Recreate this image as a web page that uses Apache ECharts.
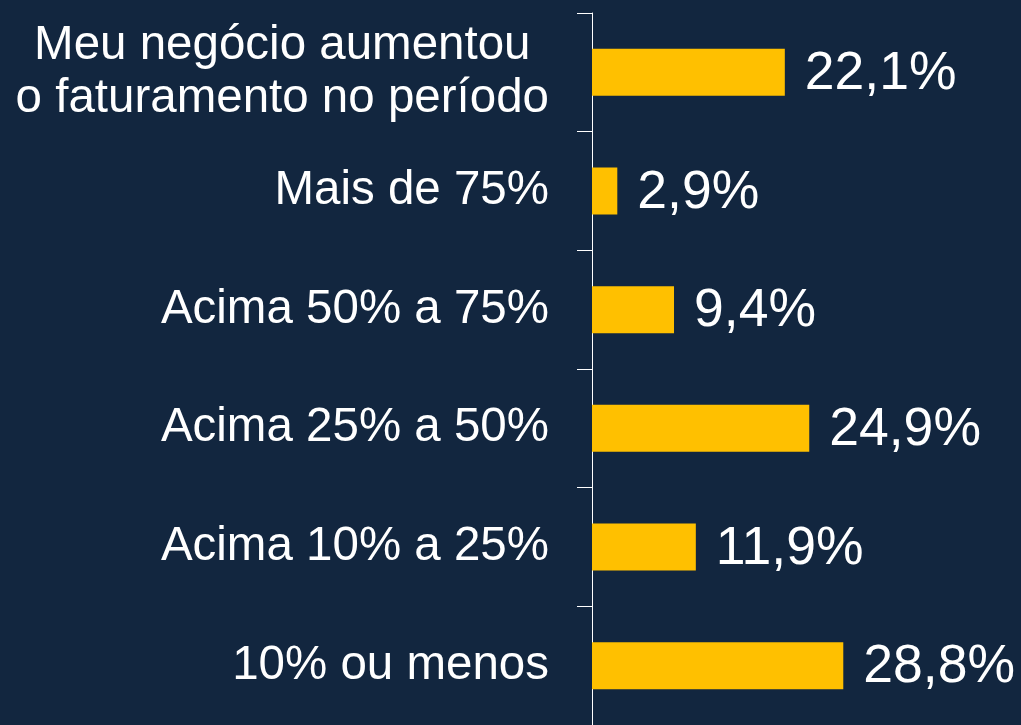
<!DOCTYPE html>
<html>
<head>
<meta charset="utf-8">
<script src="https://cdn.jsdelivr.net/npm/echarts@6/dist/echarts.min.js"></script>
<style>
html,body{margin:0;padding:0;background:#12263F;}
#chart{width:1021px;height:725px;}
</style>
</head>
<body>
<div id="chart"></div>
<script>
const categories = [
  'Meu negócio aumentou\no faturamento no período',
  'Mais de 75%',
  'Acima 50% a 75%',
  'Acima 25% a 50%',
  'Acima 10% a 25%',
  '10% ou menos'
];
const values = [22.1, 2.9, 9.4, 24.9, 11.9, 28.8];

const chart = echarts.init(document.getElementById('chart'), null, {renderer: 'canvas'});
chart.setOption({
  backgroundColor: '#12263F',
  animation: false,
  grid: {left: 592, top: 13, width: 349, height: 714},
  xAxis: {
    type: 'value', min: 0, max: 40, show: false
  },
  yAxis: {
    type: 'category',
    data: categories,
    inverse: true,
    axisLine: {show: true, lineStyle: {color: '#FFFFFF', width: 1}},
    axisTick: {show: true, length: 15, lineStyle: {color: '#FFFFFF', width: 1}},
    axisLabel: {
      margin: 43,
      color: '#FFFFFF',
      fontSize: 47.5,
      lineHeight: 53,
      fontFamily: 'Liberation Sans, Arial, sans-serif',
      align: 'right',
      formatter: v => v.split('\n').map(s => '{c|' + s + '}').join('\n'),
      rich: {
        c: {
          align: 'center',
          color: '#FFFFFF',
          fontSize: 47.5,
          lineHeight: 53,
          fontFamily: 'Liberation Sans, Arial, sans-serif'
        }
      }
    },
    splitLine: {show: false}
  },
  series: [{
    type: 'bar',
    data: values,
    barWidth: 47,
    itemStyle: {color: '#FFC000'},
    label: {
      show: true,
      position: 'right',
      distance: 20,
      offset: [0, 2],
      color: '#FFFFFF',
      fontSize: 53.5,
      fontFamily: 'Liberation Sans, Arial, sans-serif',
      formatter: p => p.value.toFixed(1).replace('.', ',') + '%'
    }
  }]
});
</script>
</body>
</html>
